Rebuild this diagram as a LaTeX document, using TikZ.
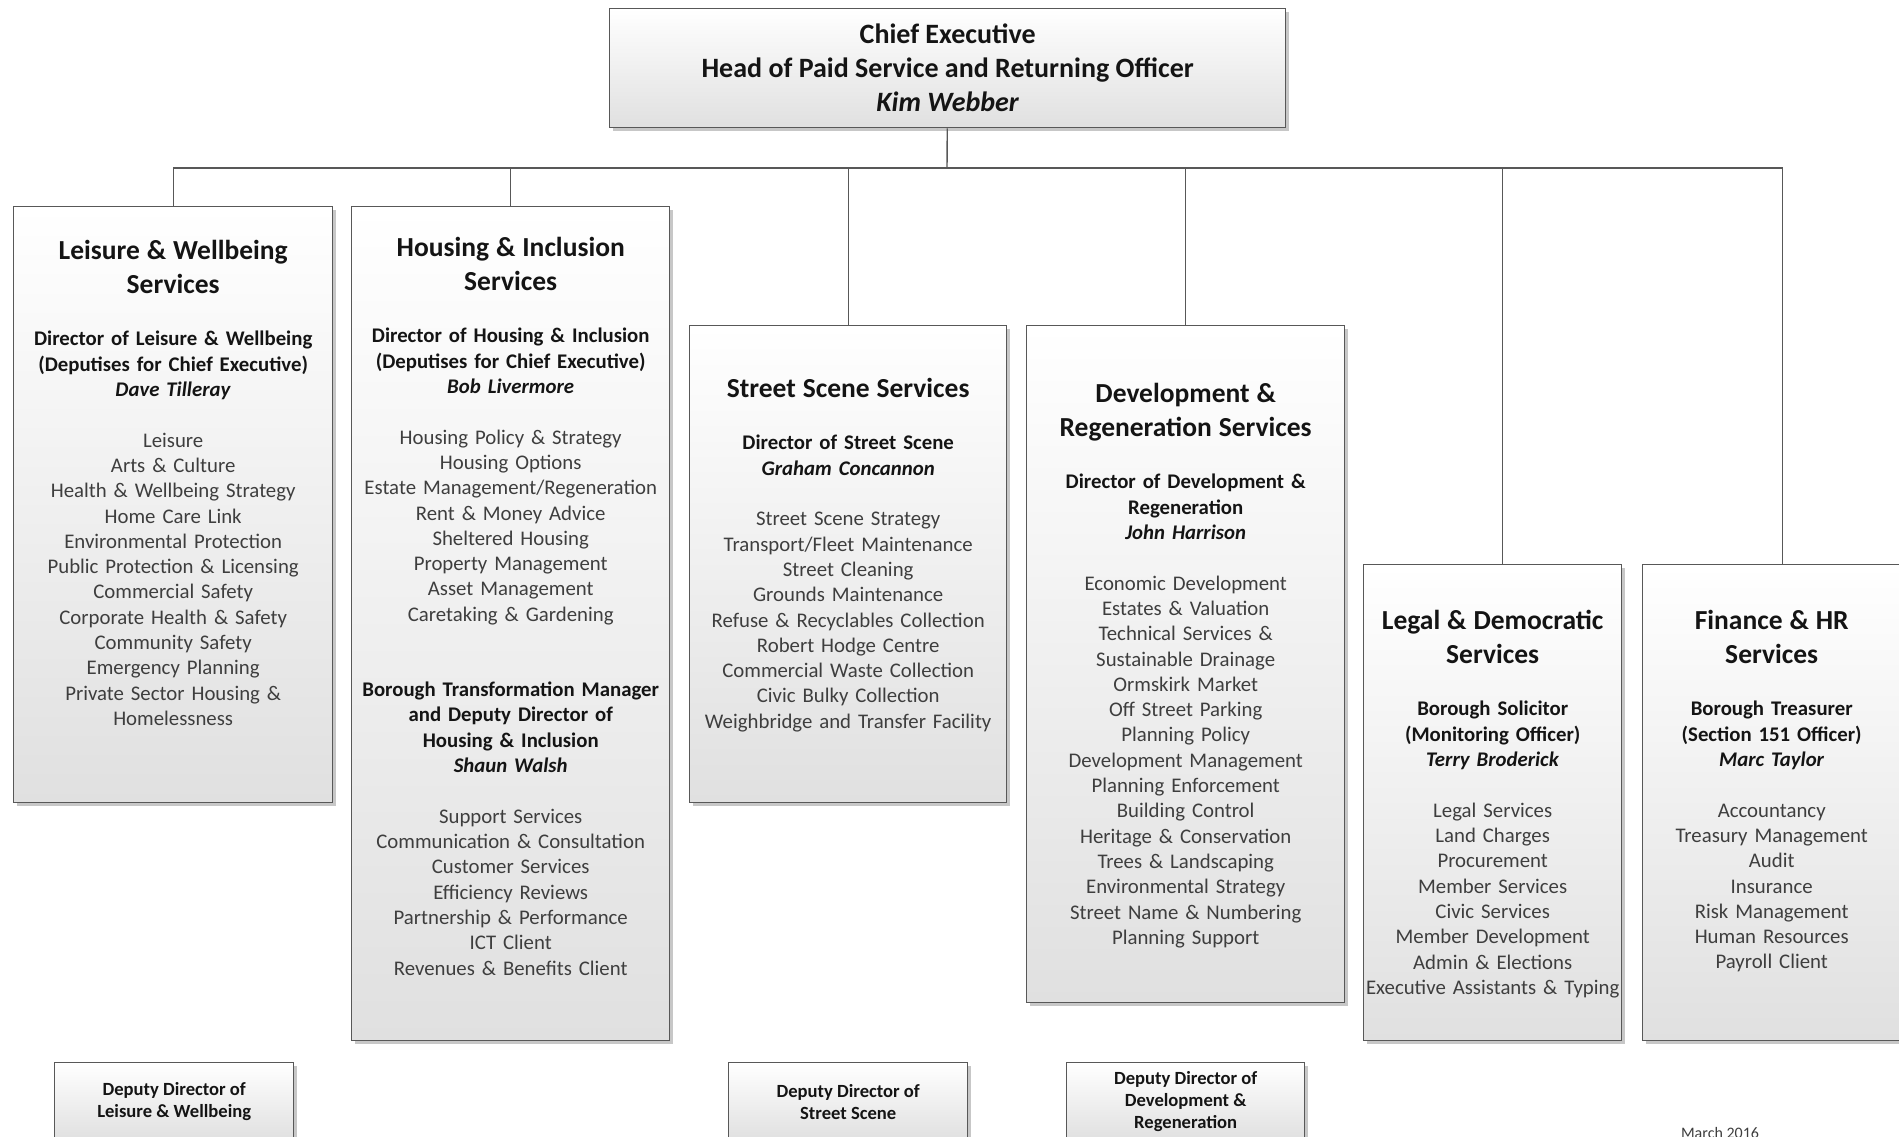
\documentclass[tikz,border=0pt]{standalone}
\usepackage{fontspec}
\setmainfont{Carlito}
\usetikzlibrary{positioning}
\usetikzlibrary{shadows}

\definecolor{linegrey}{RGB}{88,88,88}
\definecolor{boxgrey}{RGB}{224,224,224}
\definecolor{itemgrey}{RGB}{62,62,62}
\definecolor{headblack}{RGB}{20,20,20}

\newcommand{\unithead}[1]{{\fontsize{27.5}{34}\selectfont\bfseries #1\par}\vspace{27pt}}
\newcommand{\unitdir}[1]{{\bfseries #1\par}\vspace{25.5pt}}
\newcommand{\unitlist}[1]{{\color{itemgrey}#1\par}}

\begin{document}
\begin{tikzpicture}[
		x=1pt, y=-1pt,
		unit/.style={draw=linegrey, line width=1.4pt, top color=white, bottom color=boxgrey,
			anchor=north west, inner sep=0pt,
			drop shadow={shadow xshift=3pt, shadow yshift=-3pt, opacity=0.22, fill=black}},
		unittext/.style={text width=340pt, align=center, inner sep=0pt,
			font=\fontsize{20.8}{25.3}\selectfont, text=headblack},
		deputy/.style={unit, minimum height=78pt, align=center, text=headblack,
			font=\fontsize{18.6}{22}\selectfont\bfseries},
		link/.style={draw=linegrey, line width=1.4pt},
	]
		\useasboundingbox (0,0) rectangle (1899,1137);
		\fill[white] (0,0) rectangle (1899,1137);

		\node[unit, minimum width=676pt, minimum height=119pt, align=center, text=headblack,
			font=\fontsize{28}{34}\selectfont\bfseries] (chief) at (609,8)
			{Chief Executive\\Head of Paid Service and Returning Officer\\\textit{Kim Webber}};

		\node[unit, minimum width=319pt, minimum height=596pt] (leisure) at (13,206) {};
		\node[unit, minimum width=318pt, minimum height=834pt] (housing) at (351,206) {};
		\node[unit, minimum width=317pt, minimum height=477pt] (street) at (689,325) {};
		\node[unit, minimum width=318pt, minimum height=677pt] (dev) at (1026,325) {};
		\node[unit, minimum width=258pt, minimum height=476pt] (legal) at (1363,564) {};
		\node[unit, minimum width=258pt, minimum height=476pt] (finance) at (1642,564) {};

		\node[unittext, below=34pt of leisure.north] (leisureText) {%
			\unithead{Leisure \& Wellbeing\\Services}%
			\unitdir{Director of Leisure \& Wellbeing\\(Deputises for Chief Executive)\\\textit{Dave Tilleray}}%
			\unitlist{Leisure\\Arts \& Culture\\Health \& Wellbeing Strategy\\Home Care Link\\Environmental Protection\\Public Protection \& Licensing\\Commercial Safety\\Corporate Health \& Safety\\Community Safety\\Emergency Planning\\Private Sector Housing \&\\Homelessness}};
		\node[unittext, below=31pt of housing.north] (housingText) {%
			\unithead{Housing \& Inclusion\\Services}%
			\unitdir{Director of Housing \& Inclusion\\(Deputises for Chief Executive)\\\textit{Bob Livermore}}%
			\unitlist{Housing Policy \& Strategy\\Housing Options\\Estate Management/Regeneration\\Rent \& Money Advice\\Sheltered Housing\\Property Management\\Asset Management\\Caretaking \& Gardening}%
			\vspace{50pt}%
			\unitdir{Borough Transformation Manager\\and Deputy Director of\\Housing \& Inclusion\\\textit{Shaun Walsh}}%
			\unitlist{Support Services\\Communication \& Consultation\\Customer Services\\Efficiency Reviews\\Partnership \& Performance\\ICT Client\\Revenues \& Benefits Client}};
		\node[unittext, below=53pt of street.north] (streetText) {%
			\unithead{Street Scene Services}%
			\unitdir{Director of Street Scene\\\textit{Graham Concannon}}%
			\unitlist{Street Scene Strategy\\Transport/Fleet Maintenance\\Street Cleaning\\Grounds Maintenance\\Refuse \& Recyclables Collection\\Robert Hodge Centre\\Commercial Waste Collection\\Civic Bulky Collection\\Weighbridge and Transfer Facility}};
		\node[unittext, below=58pt of dev.north] (devText) {%
			\unithead{Development \&\\Regeneration Services}%
			\unitdir{Director of Development \&\\Regeneration\\\textit{John Harrison}}%
			\unitlist{Economic Development\\Estates \& Valuation\\Technical Services \&\\Sustainable Drainage\\Ormskirk Market\\Off Street Parking\\Planning Policy\\Development Management\\Planning Enforcement\\Building Control\\Heritage \& Conservation\\Trees \& Landscaping\\Environmental Strategy\\Street Name \& Numbering\\Planning Support}};
		\node[unittext, below=46pt of legal.north] (legalText) {%
			\unithead{Legal \& Democratic\\Services}%
			\unitdir{Borough Solicitor\\(Monitoring Officer)\\\textit{Terry Broderick}}%
			\unitlist{Legal Services\\Land Charges\\Procurement\\Member Services\\Civic Services\\Member Development\\Admin \& Elections\\Executive Assistants \& Typing}};
		\node[unittext, below=46pt of finance.north] (financeText) {%
			\unithead{Finance \& HR\\Services}%
			\unitdir{Borough Treasurer\\(Section 151 Officer)\\\textit{Marc Taylor}}%
			\unitlist{Accountancy\\Treasury Management\\Audit\\Insurance\\Risk Management\\Human Resources\\Payroll Client}};

		\node[deputy, minimum width=239pt] (leisureDep) at (54,1062) {Deputy Director of\\Leisure \& Wellbeing};
		\node[deputy, minimum width=239pt] (streetDep) at (728,1062) {Deputy Director of\\Street Scene};
		\node[deputy, minimum width=238pt] (devDep) at (1066,1062) {Deputy Director of\\Development \&\\Regeneration};

		\node[font=\fontsize{16}{19}\selectfont, text=itemgrey] (date) at (1720,1133) {March 2016};

		\coordinate (bus) at (947,168);
		\draw[link] (chief) -- (bus);
		\draw[link] (leisure.north) |- (bus);
		\draw[link] (housing.north) |- (bus);
		\draw[link] (street.north) |- (bus);
		\draw[link] (dev.north) |- (bus);
		\draw[link] ([xshift=10pt]legal.north) |- (bus);
		\draw[link] ([xshift=11pt]finance.north) |- (bus);
	\end{tikzpicture}
\end{document}
